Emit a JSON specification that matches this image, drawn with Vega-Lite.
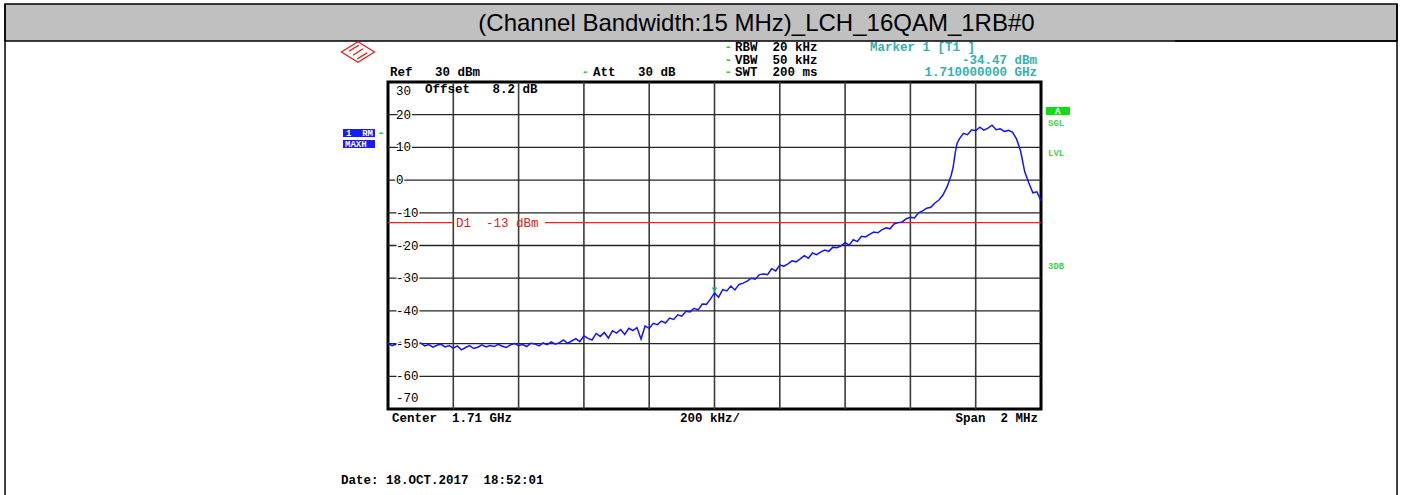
{
  "$schema": "https://vega.github.io/schema/vega-lite/v6.json",
  "width": 653,
  "height": 327,
  "autosize": {"type": "none"},
  "padding": {"left": 388, "top": 82, "right": 361, "bottom": 86},
  "background": "white",
  "config": {
    "view": {"stroke": "#000000", "strokeWidth": 3},
    "text": {"font": "Liberation Mono", "fontWeight": "bold", "fontSize": 12.5, "align": "left", "baseline": "middle"}
  },
  "datasets": {
    "banner": [{"mhz": 1707.827, "mhz2": 1712.0904, "dbm": 53.85, "dbm2": 42.54}],
    "border": [
      {"mhz": 1707.827, "mhz2": 1707.827, "dbm": 53.85, "dbm2": -96.3},
      {"mhz": 1712.0904, "mhz2": 1712.0904, "dbm": 53.85, "dbm2": -96.3},
      {"mhz": 1711.4104, "mhz2": 1712.0904, "dbm": 42.54, "dbm2": 42.54}
    ],
    "title": [{"mhz": 1710.1286, "dbm": 47.8, "text": "(Channel Bandwidth:15 MHz)_LCH_16QAM_1RB#0"}],
    "gridX": [{"mhz": 1709.2}, {"mhz": 1709.4}, {"mhz": 1709.6}, {"mhz": 1709.8}, {"mhz": 1710.0}, {"mhz": 1710.2}, {"mhz": 1710.4}, {"mhz": 1710.6}, {"mhz": 1710.8}],
    "gridY": [{"dbm": 20}, {"dbm": 10}, {"dbm": 0}, {"dbm": -10}, {"dbm": -20}, {"dbm": -30}, {"dbm": -40}, {"dbm": -50}, {"dbm": -60}],
    "limit": [
      {"mhz": 1709.0, "mhz2": 1709.2, "dbm": -13},
      {"mhz": 1709.48, "mhz2": 1711.0, "dbm": -13}
    ],
    "limitLabel": [{"mhz": 1709.2083, "dbm": -13, "text": "D1\u00a0\u00a0-13 dBm"}],
    "levels": [
      {"mhz": 1709.0245, "dbm": 30, "text": "30"},
      {"mhz": 1709.0245, "dbm": 20, "text": "20"},
      {"mhz": 1709.0245, "dbm": 10, "text": "10"},
      {"mhz": 1709.0245, "dbm": 0, "text": "0"},
      {"mhz": 1709.0245, "dbm": -10, "text": "-10"},
      {"mhz": 1709.0245, "dbm": -20, "text": "-20"},
      {"mhz": 1709.0245, "dbm": -30, "text": "-30"},
      {"mhz": 1709.0245, "dbm": -40, "text": "-40"},
      {"mhz": 1709.0245, "dbm": -50, "text": "-50"},
      {"mhz": 1709.0245, "dbm": -60, "text": "-60"},
      {"mhz": 1709.0245, "dbm": -70, "text": "-70"}
    ],
    "notesLeft": [
      {"mhz": 1709.0061, "dbm": 33.06, "text": "Ref\u00a0\u00a0\u00a030 dBm", "kind": "setting"},
      {"mhz": 1709.5923, "dbm": 33.06, "text": "-", "kind": "flag"},
      {"mhz": 1709.6279, "dbm": 33.06, "text": "Att\u00a0\u00a0\u00a030 dB", "kind": "setting"},
      {"mhz": 1710.0303, "dbm": 40.70, "text": "-", "kind": "flag"},
      {"mhz": 1710.0303, "dbm": 36.73, "text": "-", "kind": "flag"},
      {"mhz": 1710.0303, "dbm": 33.06, "text": "-", "kind": "flag"},
      {"mhz": 1710.0628, "dbm": 40.70, "text": "RBW\u00a0\u00a020 kHz", "kind": "setting"},
      {"mhz": 1710.0628, "dbm": 36.73, "text": "VBW\u00a0\u00a050 kHz", "kind": "setting"},
      {"mhz": 1710.0628, "dbm": 33.06, "text": "SWT\u00a0\u00a0200 ms", "kind": "setting"},
      {"mhz": 1710.4763, "dbm": 40.70, "text": "Marker 1 [T1 ]", "kind": "marker"},
      {"mhz": 1709.1133, "dbm": 27.86, "text": "Offset\u00a0\u00a0\u00a08.2 dB", "kind": "setting"},
      {"mhz": 1709.0123, "dbm": -72.75, "text": "Center\u00a0\u00a01.71 GHz", "kind": "setting"},
      {"mhz": 1709.8943, "dbm": -72.75, "text": "200 kHz/", "kind": "setting"},
      {"mhz": 1708.856, "dbm": -91.71, "text": "Date: 18.OCT.2017\u00a0\u00a018:52:01", "kind": "setting"},
      {"mhz": 1708.9675, "dbm": 14.40, "text": "-", "kind": "flag"}
    ],
    "notesRight": [
      {"mhz": 1710.9877, "dbm": 36.73, "text": "-34.47 dBm", "kind": "marker"},
      {"mhz": 1710.9877, "dbm": 33.06, "text": "1.710000000 GHz", "kind": "marker"},
      {"mhz": 1710.9908, "dbm": -72.75, "text": "Span\u00a0\u00a02 MHz", "kind": "setting"}
    ],
    "boxes": [
      {"mhz": 1708.8622, "mhz2": 1708.9602, "dbm": 15.63, "dbm2": 13.18, "kind": "trace"},
      {"mhz": 1708.8622, "mhz2": 1708.9602, "dbm": 12.26, "dbm2": 9.82, "kind": "trace"},
      {"mhz": 1711.0153, "mhz2": 1711.0888, "dbm": 22.35, "dbm2": 19.91, "kind": "status"}
    ],
    "smallText": [
      {"mhz": 1708.8714, "dbm": 14.40, "text": "1\u00a0\u00a0RM", "kind": "onbox"},
      {"mhz": 1708.8683, "dbm": 11.04, "text": "MAXH", "kind": "onbox"},
      {"mhz": 1711.0429, "dbm": 21.13, "text": "A", "kind": "onbox"},
      {"mhz": 1711.0214, "dbm": 17.46, "text": "SGL", "kind": "side"},
      {"mhz": 1711.0214, "dbm": 8.29, "text": "LVL", "kind": "side"},
      {"mhz": 1711.0214, "dbm": -26.27, "text": "3DB", "kind": "side"}
    ],
    "marker": [{"mhz": 1710.0, "dbm": -34.47}],
    "logo": [{"mhz": 1708.9081, "dbm": 39.17}],
    "trace": [
      {"mhz": 1709.0, "dbm": -49.9}, {"mhz": 1709.0125, "dbm": -50.6}, {"mhz": 1709.025, "dbm": -50.2}, {"mhz": 1709.0375, "dbm": -49.6},
      {"mhz": 1709.05, "dbm": -50.8}, {"mhz": 1709.0625, "dbm": -50.4}, {"mhz": 1709.075, "dbm": -50.9}, {"mhz": 1709.0875, "dbm": -50.0},
      {"mhz": 1709.1, "dbm": -49.8}, {"mhz": 1709.1125, "dbm": -50.7}, {"mhz": 1709.125, "dbm": -50.3}, {"mhz": 1709.1375, "dbm": -51.1},
      {"mhz": 1709.15, "dbm": -50.5}, {"mhz": 1709.1625, "dbm": -50.2}, {"mhz": 1709.175, "dbm": -51.0}, {"mhz": 1709.1875, "dbm": -50.6},
      {"mhz": 1709.2, "dbm": -51.4}, {"mhz": 1709.2125, "dbm": -50.7}, {"mhz": 1709.225, "dbm": -51.9}, {"mhz": 1709.2375, "dbm": -51.2},
      {"mhz": 1709.25, "dbm": -50.6}, {"mhz": 1709.2625, "dbm": -51.5}, {"mhz": 1709.275, "dbm": -51.1}, {"mhz": 1709.2875, "dbm": -50.4},
      {"mhz": 1709.3, "dbm": -51.0}, {"mhz": 1709.3125, "dbm": -50.6}, {"mhz": 1709.325, "dbm": -50.9}, {"mhz": 1709.3375, "dbm": -50.2},
      {"mhz": 1709.35, "dbm": -50.8}, {"mhz": 1709.3625, "dbm": -51.2}, {"mhz": 1709.375, "dbm": -50.4}, {"mhz": 1709.3875, "dbm": -50.0},
      {"mhz": 1709.4, "dbm": -50.6}, {"mhz": 1709.4125, "dbm": -50.3}, {"mhz": 1709.425, "dbm": -50.9}, {"mhz": 1709.4375, "dbm": -49.9},
      {"mhz": 1709.45, "dbm": -50.1}, {"mhz": 1709.4625, "dbm": -50.7}, {"mhz": 1709.475, "dbm": -49.8}, {"mhz": 1709.4875, "dbm": -50.3},
      {"mhz": 1709.5, "dbm": -49.5}, {"mhz": 1709.5125, "dbm": -50.2}, {"mhz": 1709.525, "dbm": -49.7}, {"mhz": 1709.5375, "dbm": -48.9},
      {"mhz": 1709.55, "dbm": -49.9}, {"mhz": 1709.5625, "dbm": -49.2}, {"mhz": 1709.575, "dbm": -48.5}, {"mhz": 1709.5875, "dbm": -49.4},
      {"mhz": 1709.6, "dbm": -47.6}, {"mhz": 1709.6125, "dbm": -48.4}, {"mhz": 1709.625, "dbm": -48.9}, {"mhz": 1709.6375, "dbm": -46.9},
      {"mhz": 1709.65, "dbm": -47.8}, {"mhz": 1709.6625, "dbm": -46.6}, {"mhz": 1709.675, "dbm": -48.3}, {"mhz": 1709.6875, "dbm": -46.1},
      {"mhz": 1709.7, "dbm": -46.8}, {"mhz": 1709.7125, "dbm": -45.7}, {"mhz": 1709.725, "dbm": -47.2}, {"mhz": 1709.7375, "dbm": -45.3},
      {"mhz": 1709.75, "dbm": -46.0}, {"mhz": 1709.7625, "dbm": -45.1}, {"mhz": 1709.775, "dbm": -48.6}, {"mhz": 1709.7875, "dbm": -44.6},
      {"mhz": 1709.8, "dbm": -45.4}, {"mhz": 1709.8125, "dbm": -43.8}, {"mhz": 1709.825, "dbm": -44.2}, {"mhz": 1709.8375, "dbm": -43.1},
      {"mhz": 1709.85, "dbm": -43.7}, {"mhz": 1709.8625, "dbm": -42.2}, {"mhz": 1709.875, "dbm": -42.6}, {"mhz": 1709.8875, "dbm": -41.2},
      {"mhz": 1709.9, "dbm": -41.6}, {"mhz": 1709.9125, "dbm": -40.1}, {"mhz": 1709.925, "dbm": -40.3}, {"mhz": 1709.9375, "dbm": -39.2},
      {"mhz": 1709.95, "dbm": -39.7}, {"mhz": 1709.9625, "dbm": -37.9}, {"mhz": 1709.975, "dbm": -38.0}, {"mhz": 1709.9875, "dbm": -36.4},
      {"mhz": 1710.0, "dbm": -34.5}, {"mhz": 1710.0125, "dbm": -35.8}, {"mhz": 1710.025, "dbm": -33.5}, {"mhz": 1710.0375, "dbm": -33.9},
      {"mhz": 1710.05, "dbm": -32.4}, {"mhz": 1710.0625, "dbm": -33.6}, {"mhz": 1710.075, "dbm": -31.9}, {"mhz": 1710.0875, "dbm": -31.5},
      {"mhz": 1710.1, "dbm": -30.9}, {"mhz": 1710.1125, "dbm": -30.0}, {"mhz": 1710.125, "dbm": -30.3}, {"mhz": 1710.1375, "dbm": -28.9},
      {"mhz": 1710.15, "dbm": -28.7}, {"mhz": 1710.1625, "dbm": -28.9}, {"mhz": 1710.175, "dbm": -27.1}, {"mhz": 1710.1875, "dbm": -27.8},
      {"mhz": 1710.2, "dbm": -26.0}, {"mhz": 1710.2125, "dbm": -26.3}, {"mhz": 1710.225, "dbm": -25.6}, {"mhz": 1710.2375, "dbm": -24.7},
      {"mhz": 1710.25, "dbm": -25.0}, {"mhz": 1710.2625, "dbm": -24.1}, {"mhz": 1710.275, "dbm": -23.1}, {"mhz": 1710.2875, "dbm": -23.9},
      {"mhz": 1710.3, "dbm": -22.3}, {"mhz": 1710.3125, "dbm": -22.8}, {"mhz": 1710.325, "dbm": -22.0}, {"mhz": 1710.3375, "dbm": -21.4},
      {"mhz": 1710.35, "dbm": -21.8}, {"mhz": 1710.3625, "dbm": -20.5}, {"mhz": 1710.375, "dbm": -20.7}, {"mhz": 1710.3875, "dbm": -20.1},
      {"mhz": 1710.4, "dbm": -19.1}, {"mhz": 1710.4125, "dbm": -19.9}, {"mhz": 1710.425, "dbm": -18.2}, {"mhz": 1710.4375, "dbm": -18.8},
      {"mhz": 1710.45, "dbm": -17.2}, {"mhz": 1710.4625, "dbm": -17.4}, {"mhz": 1710.475, "dbm": -16.6}, {"mhz": 1710.4875, "dbm": -15.9},
      {"mhz": 1710.5, "dbm": -16.1}, {"mhz": 1710.5125, "dbm": -15.2}, {"mhz": 1710.525, "dbm": -14.6}, {"mhz": 1710.5375, "dbm": -14.9},
      {"mhz": 1710.55, "dbm": -13.4}, {"mhz": 1710.5625, "dbm": -13.0}, {"mhz": 1710.575, "dbm": -12.8}, {"mhz": 1710.5875, "dbm": -11.8},
      {"mhz": 1710.6, "dbm": -11.4}, {"mhz": 1710.6125, "dbm": -11.6}, {"mhz": 1710.625, "dbm": -10.0}, {"mhz": 1710.6375, "dbm": -9.4},
      {"mhz": 1710.65, "dbm": -8.6}, {"mhz": 1710.6625, "dbm": -8.3}, {"mhz": 1710.675, "dbm": -7.0}, {"mhz": 1710.6875, "dbm": -6.1},
      {"mhz": 1710.7, "dbm": -4.5}, {"mhz": 1710.7125, "dbm": -2.0}, {"mhz": 1710.725, "dbm": 1.5}, {"mhz": 1710.731, "dbm": 4.0},
      {"mhz": 1710.7375, "dbm": 8.5}, {"mhz": 1710.743, "dbm": 11.3}, {"mhz": 1710.75, "dbm": 12.6}, {"mhz": 1710.7625, "dbm": 14.3},
      {"mhz": 1710.775, "dbm": 13.9}, {"mhz": 1710.7875, "dbm": 15.4}, {"mhz": 1710.8, "dbm": 15.1}, {"mhz": 1710.8125, "dbm": 16.2},
      {"mhz": 1710.825, "dbm": 15.3}, {"mhz": 1710.8375, "dbm": 15.9}, {"mhz": 1710.85, "dbm": 16.8}, {"mhz": 1710.8625, "dbm": 15.4},
      {"mhz": 1710.875, "dbm": 15.7}, {"mhz": 1710.8875, "dbm": 14.9}, {"mhz": 1710.9, "dbm": 15.2}, {"mhz": 1710.9125, "dbm": 14.7},
      {"mhz": 1710.925, "dbm": 12.6}, {"mhz": 1710.9375, "dbm": 8.9}, {"mhz": 1710.95, "dbm": 2.6}, {"mhz": 1710.9625, "dbm": -0.8},
      {"mhz": 1710.975, "dbm": -3.9}, {"mhz": 1710.9875, "dbm": -3.6}, {"mhz": 1711.0, "dbm": -6.3}
    ]
  },
  "layer": [
    {
      "data": {"name": "banner"},
      "mark": {"type": "rect", "fill": "#c0c0c0", "stroke": "#000000", "strokeWidth": 1.5},
      "encoding": {
        "x": {"field": "mhz", "type": "quantitative", "scale": {"domain": [1709, 1711], "nice": false, "zero": false}, "axis": null},
        "x2": {"field": "mhz2"},
        "y": {"field": "dbm", "type": "quantitative", "scale": {"domain": [-70, 30], "nice": false, "zero": false}, "axis": null},
        "y2": {"field": "dbm2"}
      }
    },
    {
      "data": {"name": "border"},
      "mark": {"type": "rule", "color": "#000000", "strokeWidth": 1.5},
      "encoding": {
        "x": {"field": "mhz", "type": "quantitative", "scale": {"domain": [1709, 1711], "nice": false, "zero": false}, "axis": null},
        "x2": {"field": "mhz2"},
        "y": {"field": "dbm", "type": "quantitative", "scale": {"domain": [-70, 30], "nice": false, "zero": false}, "axis": null},
        "y2": {"field": "dbm2"}
      }
    },
    {
      "data": {"name": "title"},
      "mark": {"type": "text", "font": "Liberation Sans", "fontWeight": "normal", "fontSize": 24, "align": "center", "baseline": "middle", "color": "#000000"},
      "encoding": {
        "x": {"field": "mhz", "type": "quantitative", "scale": {"domain": [1709, 1711], "nice": false, "zero": false}, "axis": null},
        "y": {"field": "dbm", "type": "quantitative", "scale": {"domain": [-70, 30], "nice": false, "zero": false}, "axis": null},
        "text": {"field": "text"}
      }
    },
    {
      "data": {"name": "gridX"},
      "mark": {"type": "rule", "color": "#3c3c3c", "strokeWidth": 1.6},
      "encoding": {
        "x": {"field": "mhz", "type": "quantitative", "scale": {"domain": [1709, 1711], "nice": false, "zero": false}, "axis": null}
      }
    },
    {
      "data": {"name": "gridY"},
      "mark": {"type": "rule", "color": "#262626", "strokeWidth": 1.3},
      "encoding": {
        "y": {"field": "dbm", "type": "quantitative", "scale": {"domain": [-70, 30], "nice": false, "zero": false}, "axis": null}
      }
    },
    {
      "data": {"name": "limit"},
      "mark": {"type": "rule", "color": "#ee2222", "strokeWidth": 1.2},
      "encoding": {
        "x": {"field": "mhz", "type": "quantitative", "scale": {"domain": [1709, 1711], "nice": false, "zero": false}, "axis": null},
        "x2": {"field": "mhz2"},
        "y": {"field": "dbm", "type": "quantitative", "scale": {"domain": [-70, 30], "nice": false, "zero": false}, "axis": null}
      }
    },
    {
      "data": {"name": "trace"},
      "mark": {"type": "line", "color": "#1414ff", "strokeWidth": 1.5},
      "encoding": {
        "x": {"field": "mhz", "type": "quantitative", "scale": {"domain": [1709, 1711], "nice": false, "zero": false}, "axis": null},
        "y": {"field": "dbm", "type": "quantitative", "scale": {"domain": [-70, 30], "nice": false, "zero": false}, "axis": null}
      }
    },
    {
      "data": {"name": "limitLabel"},
      "mark": {"type": "text", "color": "#e02020", "fontWeight": "normal"},
      "encoding": {
        "x": {"field": "mhz", "type": "quantitative", "scale": {"domain": [1709, 1711], "nice": false, "zero": false}, "axis": null},
        "y": {"field": "dbm", "type": "quantitative", "scale": {"domain": [-70, 30], "nice": false, "zero": false}, "axis": null},
        "text": {"field": "text"}
      }
    },
    {
      "data": {"name": "levels"},
      "transform": [{"filter": "datum.dbm < 30 && datum.dbm > -70"}],
      "mark": {"type": "text", "color": "#ffffff", "stroke": "#ffffff", "strokeWidth": 3, "fontWeight": "normal"},
      "encoding": {
        "x": {"field": "mhz", "type": "quantitative", "scale": {"domain": [1709, 1711], "nice": false, "zero": false}, "axis": null},
        "y": {"field": "dbm", "type": "quantitative", "scale": {"domain": [-70, 30], "nice": false, "zero": false}, "axis": null},
        "text": {"field": "text"}
      }
    },
    {
      "data": {"name": "levels"},
      "transform": [{"filter": "datum.dbm < 30 && datum.dbm > -70"}],
      "mark": {"type": "text", "color": "#000000", "fontWeight": "normal"},
      "encoding": {
        "x": {"field": "mhz", "type": "quantitative", "scale": {"domain": [1709, 1711], "nice": false, "zero": false}, "axis": null},
        "y": {"field": "dbm", "type": "quantitative", "scale": {"domain": [-70, 30], "nice": false, "zero": false}, "axis": null},
        "text": {"field": "text"}
      }
    },
    {
      "data": {"name": "levels"},
      "transform": [{"filter": "datum.dbm == 30"}],
      "mark": {"type": "text", "color": "#000000", "fontWeight": "normal", "baseline": "top", "dy": 3},
      "encoding": {
        "x": {"field": "mhz", "type": "quantitative", "scale": {"domain": [1709, 1711], "nice": false, "zero": false}, "axis": null},
        "y": {"field": "dbm", "type": "quantitative", "scale": {"domain": [-70, 30], "nice": false, "zero": false}, "axis": null},
        "text": {"field": "text"}
      }
    },
    {
      "data": {"name": "levels"},
      "transform": [{"filter": "datum.dbm == -70"}],
      "mark": {"type": "text", "color": "#000000", "fontWeight": "normal", "baseline": "bottom", "dy": -4},
      "encoding": {
        "x": {"field": "mhz", "type": "quantitative", "scale": {"domain": [1709, 1711], "nice": false, "zero": false}, "axis": null},
        "y": {"field": "dbm", "type": "quantitative", "scale": {"domain": [-70, 30], "nice": false, "zero": false}, "axis": null},
        "text": {"field": "text"}
      }
    },
    {
      "data": {"name": "notesLeft"},
      "mark": {"type": "text", "align": "left"},
      "encoding": {
        "x": {"field": "mhz", "type": "quantitative", "scale": {"domain": [1709, 1711], "nice": false, "zero": false}, "axis": null},
        "y": {"field": "dbm", "type": "quantitative", "scale": {"domain": [-70, 30], "nice": false, "zero": false}, "axis": null},
        "text": {"field": "text"},
        "color": {"field": "kind", "type": "nominal", "scale": {"domain": ["setting", "marker", "flag", "onbox", "side"], "range": ["#000000", "#35b0b0", "#30d030", "#ffffff", "#44d444"]}, "legend": null}
      }
    },
    {
      "data": {"name": "notesRight"},
      "mark": {"type": "text", "align": "right"},
      "encoding": {
        "x": {"field": "mhz", "type": "quantitative", "scale": {"domain": [1709, 1711], "nice": false, "zero": false}, "axis": null},
        "y": {"field": "dbm", "type": "quantitative", "scale": {"domain": [-70, 30], "nice": false, "zero": false}, "axis": null},
        "text": {"field": "text"},
        "color": {"field": "kind", "type": "nominal", "scale": {"domain": ["setting", "marker", "flag", "onbox", "side"], "range": ["#000000", "#35b0b0", "#30d030", "#ffffff", "#44d444"]}, "legend": null}
      }
    },
    {
      "data": {"name": "boxes"},
      "mark": {"type": "rect"},
      "encoding": {
        "x": {"field": "mhz", "type": "quantitative", "scale": {"domain": [1709, 1711], "nice": false, "zero": false}, "axis": null},
        "x2": {"field": "mhz2"},
        "y": {"field": "dbm", "type": "quantitative", "scale": {"domain": [-70, 30], "nice": false, "zero": false}, "axis": null},
        "y2": {"field": "dbm2"},
        "fill": {"field": "kind", "type": "nominal", "scale": {"domain": ["trace", "status"], "range": ["#1a1aff", "#10dd10"]}, "legend": null}
      }
    },
    {
      "data": {"name": "smallText"},
      "mark": {"type": "text", "fontSize": 9},
      "encoding": {
        "x": {"field": "mhz", "type": "quantitative", "scale": {"domain": [1709, 1711], "nice": false, "zero": false}, "axis": null},
        "y": {"field": "dbm", "type": "quantitative", "scale": {"domain": [-70, 30], "nice": false, "zero": false}, "axis": null},
        "text": {"field": "text"},
        "color": {"field": "kind", "type": "nominal", "scale": {"domain": ["setting", "marker", "flag", "onbox", "side"], "range": ["#000000", "#35b0b0", "#30d030", "#ffffff", "#44d444"]}, "legend": null}
      }
    },
    {
      "data": {"name": "marker"},
      "mark": {"type": "point", "shape": "triangle-down", "filled": true, "color": "#20a0a0", "size": 30, "yOffset": -3, "opacity": 1},
      "encoding": {
        "x": {"field": "mhz", "type": "quantitative", "scale": {"domain": [1709, 1711], "nice": false, "zero": false}, "axis": null},
        "y": {"field": "dbm", "type": "quantitative", "scale": {"domain": [-70, 30], "nice": false, "zero": false}, "axis": null}
      }
    },
    {
      "data": {"name": "logo"},
      "mark": {"type": "point", "shape": "M0,-0.62L1,0L0,0.62L-1,0Z M-0.55,-0.05L0.05,-0.42 M-0.3,0.2L0.3,-0.2 M-0.05,0.42L0.55,0.05", "filled": false, "stroke": "#e02020", "strokeWidth": 1.3, "size": 1089, "opacity": 1},
      "encoding": {
        "x": {"field": "mhz", "type": "quantitative", "scale": {"domain": [1709, 1711], "nice": false, "zero": false}, "axis": null},
        "y": {"field": "dbm", "type": "quantitative", "scale": {"domain": [-70, 30], "nice": false, "zero": false}, "axis": null}
      }
    }
  ]
}
